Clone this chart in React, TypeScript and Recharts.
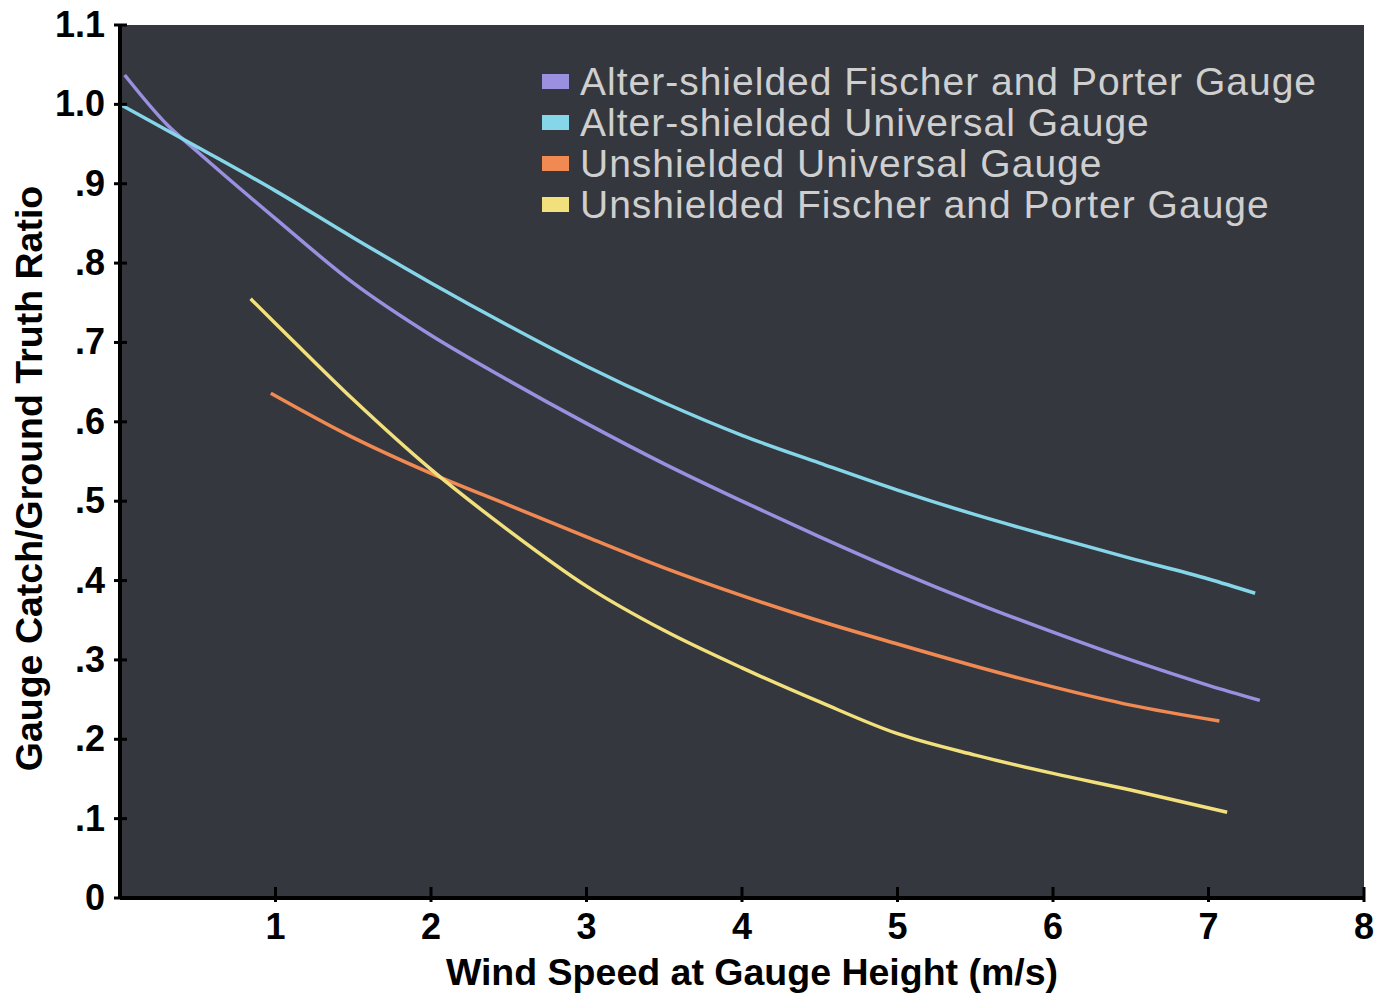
import React from 'react';
import { LineChart, Line, XAxis, YAxis, CartesianGrid, Legend } from 'recharts';

const FONT = '"Liberation Sans", Arial, Helvetica, sans-serif';

// Axis ticks
const xTicks = [1, 2, 3, 4, 5, 6, 7, 8];
const yTicks = [0, 0.1, 0.2, 0.3, 0.4, 0.5, 0.6, 0.7, 0.8, 0.9, 1.0, 1.1];
const yTickLabels = ['0', '.1', '.2', '.3', '.4', '.5', '.6', '.7', '.8', '.9', '1.0', '1.1'];

// Series names and colours
const seriesNames = [
  'Alter-shielded Fischer and Porter Gauge',
  'Alter-shielded Universal Gauge',
  'Unshielded Universal Gauge',
  'Unshielded Fischer and Porter Gauge',
];
const seriesColors = ['#9b8fe0', '#86d6ea', '#f08a52', '#f2e07c'];

// Alter-shielded Fischer and Porter
const afpX = [0.03, 0.3, 0.5, 1, 1.5, 2, 2.5, 3, 3.5, 4, 4.5, 5, 5.5, 6, 6.5, 7, 7.33];
const afpY = [1.037, 0.975, 0.94, 0.856, 0.775, 0.709, 0.652, 0.598, 0.547, 0.5, 0.455, 0.412, 0.372, 0.335, 0.3, 0.268, 0.249];

// Alter-shielded Universal
const auX = [0.0, 0.5, 1, 1.5, 2, 2.5, 3, 3.5, 4, 4.5, 5, 5.5, 6, 6.5, 7, 7.3];
const auY = [1.0, 0.946, 0.891, 0.832, 0.775, 0.721, 0.67, 0.624, 0.583, 0.548, 0.514, 0.483, 0.455, 0.428, 0.402, 0.384];

// Unshielded Universal
const uuX = [0.97, 1.5, 2, 2.5, 3, 3.5, 4, 4.5, 5, 5.5, 6, 6.5, 7.07];
const uuY = [0.636, 0.58, 0.535, 0.495, 0.455, 0.416, 0.381, 0.349, 0.32, 0.292, 0.266, 0.243, 0.223];

// Unshielded Fischer and Porter
const ufpX = [0.84, 1, 1.5, 2, 2.5, 3, 3.5, 4, 4.5, 5, 5.5, 6, 6.5, 7.12];
const ufpY = [0.755, 0.724, 0.628, 0.54, 0.463, 0.393, 0.337, 0.29, 0.247, 0.207, 0.18, 0.157, 0.136, 0.108];

const toPoints = (xs: number[], ys: number[]) => xs.map((x, i) => ({ x, y: ys[i] }));
const seriesData = [toPoints(afpX, afpY), toPoints(auX, auY), toPoints(uuX, uuY), toPoints(ufpX, ufpY)];

const LeftTick = (props: any) => {
  const { x, y, payload } = props;
  const idx = yTicks.findIndex((t) => Math.abs(t - payload.value) < 1e-6);
  return (
    <g>
      <line x1={x - 6} y1={y} x2={x + 7} y2={y} stroke="#000" strokeWidth={3} />
      <text x={x - 15} y={y} dy={12} textAnchor="end" fontFamily={FONT} fontWeight="bold" fontSize={36} fill="#000">
        {idx >= 0 ? yTickLabels[idx] : payload.value}
      </text>
    </g>
  );
};

const RightTick = (props: any) => {
  const { x, y } = props;
  return <line x1={x - 9} y1={y} x2={x} y2={y} stroke="#000" strokeWidth={3} />;
};

const BottomTick = (props: any) => {
  const { x, y, payload } = props;
  return (
    <g>
      <line x1={x} y1={y - 11} x2={x} y2={y + 4} stroke="#000" strokeWidth={3} />
      <text x={x} y={y + 41} textAnchor="middle" fontFamily={FONT} fontWeight="bold" fontSize={36} fill="#000">
        {payload.value}
      </text>
    </g>
  );
};

const XTitle = (props: any) => {
  const vb = props.viewBox;
  return (
    <text x={vb.x + vb.width / 2 + 10} y={985} textAnchor="middle" fontFamily={FONT} fontWeight="bold" fontSize={37.5} fill="#000">
      Wind Speed at Gauge Height (m/s)
    </text>
  );
};

const YTitle = (props: any) => {
  const vb = props.viewBox;
  const cx = 42;
  const cy = vb.y + vb.height / 2 + 17;
  return (
    <text x={cx} y={cy} transform={`rotate(-90, ${cx}, ${cy})`} textAnchor="middle" fontFamily={FONT} fontWeight="bold" fontSize={37.5} fill="#000">
      Gauge Catch/Ground Truth Ratio
    </text>
  );
};

const LegendContent = (props: any) => {
  const payload = [...(props.payload || [])].sort(
    (a: any, b: any) => seriesNames.indexOf(a.value) - seriesNames.indexOf(b.value)
  );
  return (
    <div style={{ fontFamily: FONT }}>
      {payload.map((entry: any, i: number) => (
        <div key={i} style={{ display: 'flex', alignItems: 'center', height: 41 }}>
          <div style={{ width: 27, height: 15, background: entry.color, marginRight: 11, flex: 'none' }} />
          <span style={{ fontSize: 39, letterSpacing: 1, color: '#cfcfcf', lineHeight: '41px', whiteSpace: 'nowrap' }}>
            {entry.value}
          </span>
        </div>
      ))}
    </div>
  );
};

export default function App() {
  return (
    <div style={{ position: 'absolute', left: 0, top: 0, width: 1377, height: 995, background: '#fff' }}>
      <LineChart width={1377} height={995} margin={{ top: 25, right: 13, left: 0, bottom: 0 }}>
        <CartesianGrid horizontal={false} vertical={false} fill="#34373e" fillOpacity={1} stroke="none" />
        <XAxis
          type="number"
          dataKey="x"
          domain={[0, 8]}
          ticks={xTicks}
          interval={0}
          allowDataOverflow
          height={97}
          tickSize={0}
          tickMargin={0}
          tickLine={false}
          axisLine={{ stroke: '#000', strokeWidth: 4 }}
          tick={<BottomTick />}
          label={<XTitle />}
        />
        <XAxis
          xAxisId="top"
          orientation="top"
          type="number"
          domain={[0, 8]}
          height={0}
          tick={false}
          tickLine={false}
          axisLine={{ stroke: '#000', strokeWidth: 4 }}
        />
        <YAxis
          type="number"
          domain={[0, 1.1]}
          ticks={yTicks}
          interval={0}
          allowDataOverflow
          width={120}
          tickSize={0}
          tickMargin={0}
          tickLine={false}
          axisLine={{ stroke: '#000', strokeWidth: 4 }}
          tick={<LeftTick />}
          label={<YTitle />}
        />
        <YAxis
          yAxisId="right"
          orientation="right"
          type="number"
          domain={[0, 1.1]}
          ticks={yTicks}
          interval={0}
          allowDataOverflow
          width={0}
          tickSize={0}
          tickMargin={0}
          tickLine={false}
          axisLine={{ stroke: '#000', strokeWidth: 4 }}
          tick={<RightTick />}
        />
        {seriesData.map((d, i) => (
          <Line
            key={seriesNames[i]}
            data={d}
            dataKey="y"
            name={seriesNames[i]}
            type="monotone"
            stroke={seriesColors[i]}
            strokeWidth={3.5}
            dot={false}
            activeDot={false}
            isAnimationActive={false}
          />
        ))}
        <Legend
          layout="vertical"
          align="center"
          verticalAlign="middle"
          content={<LegendContent />}
          wrapperStyle={{ left: 542, top: 61, width: 820, height: 170 }}
        />
      </LineChart>
    </div>
  );
}
